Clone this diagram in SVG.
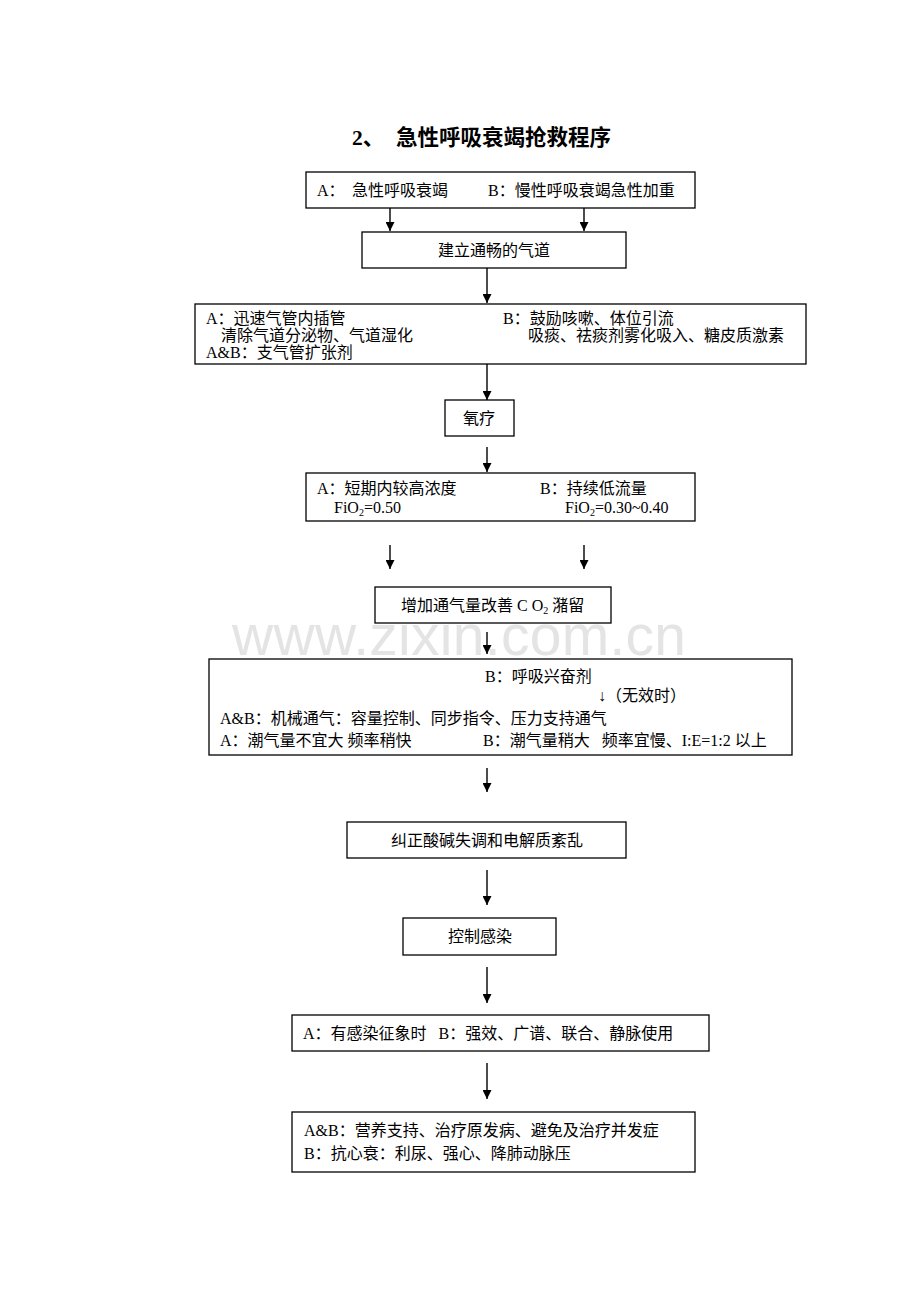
<svg xmlns="http://www.w3.org/2000/svg" width="920" height="1302" viewBox="0 0 920 1302" xml:space="preserve">
<style>
.box{fill:#fff;stroke:#000;stroke-width:1.3}
.t{font-family:"Liberation Serif","Noto Sans CJK SC",serif;font-size:16px;fill:#000;white-space:pre}
.title{font-family:"Liberation Serif","Noto Sans CJK SC",serif;font-size:21.5px;font-weight:bold;fill:#000}
.wm{font-family:"Liberation Sans",Arial,sans-serif;font-size:57px;fill:#e4e4e4}
.c{text-anchor:middle}
.ln{stroke:#000;stroke-width:1.4;fill:none}
</style>
<defs>
<marker id="ah" viewBox="0 0 10 10" refX="10" refY="5" markerWidth="9" markerHeight="9" markerUnits="userSpaceOnUse" orient="auto">
<path d="M0,0 L10,5 L0,10 z" fill="#000"/>
</marker>
</defs>
<rect width="920" height="1302" fill="#fff"/>
<text class="wm" x="232" y="655" textLength="454">www.zixin.com.cn</text>
<g id="title">
<text class="title" x="352" y="145">2、</text>
<text class="title" x="396" y="145">急性呼吸衰竭抢救程序</text>
</g>

<g id="connectors">
<line class="ln" x1="390" y1="208" x2="390" y2="231" marker-end="url(#ah)"/>
<line class="ln" x1="584" y1="208" x2="584" y2="231" marker-end="url(#ah)"/>
<line class="ln" x1="487" y1="268" x2="487" y2="303" marker-end="url(#ah)"/>
<line class="ln" x1="487" y1="364" x2="487" y2="400" marker-end="url(#ah)"/>
<line class="ln" x1="487" y1="447" x2="487" y2="472" marker-end="url(#ah)"/>
<line class="ln" x1="390" y1="545" x2="390" y2="569" marker-end="url(#ah)"/>
<line class="ln" x1="584" y1="545" x2="584" y2="569" marker-end="url(#ah)"/>
<line class="ln" x1="487" y1="632" x2="487" y2="654" marker-end="url(#ah)"/>
<line class="ln" x1="487" y1="768" x2="487" y2="792" marker-end="url(#ah)"/>
<line class="ln" x1="487" y1="870" x2="487" y2="905" marker-end="url(#ah)"/>
<line class="ln" x1="487" y1="967" x2="487" y2="1003" marker-end="url(#ah)"/>
<line class="ln" x1="487" y1="1063" x2="487" y2="1099" marker-end="url(#ah)"/>
</g>

<g id="n1">
<rect class="box" x="306" y="172" width="389" height="36"/>
<text class="t" x="317" y="196">A：</text>
<text class="t" x="352" y="196">急性呼吸衰竭</text>
<text class="t" x="488" y="196">B：慢性呼吸衰竭急性加重</text>
</g>
<g id="n2">
<rect class="box" x="362" y="232" width="264" height="36"/>
<text class="t c" x="494" y="256">建立通畅的气道</text>
</g>
<g id="n3">
<rect class="box" x="195" y="304" width="611" height="60"/>
<text class="t" x="206" y="324">A：迅速气管内插管</text>
<text class="t" x="221" y="341">清除气道分泌物、气道湿化</text>
<text class="t" x="206" y="358">A&amp;B：支气管扩张剂</text>
<text class="t" x="503" y="324">B：鼓励咳嗽、体位引流</text>
<text class="t" x="528" y="341">吸痰、祛痰剂雾化吸入、糖皮质激素</text>
</g>
<g id="n4">
<rect class="box" x="445" y="400" width="69" height="36"/>
<text class="t c" x="479" y="424">氧疗</text>
</g>
<g id="n5">
<rect class="box" x="306" y="473" width="389" height="48"/>
<text class="t" x="317" y="494">A：短期内较高浓度</text>
<text class="t" x="334" y="513">FiO<tspan font-size="10" dy="3">2</tspan><tspan dy="-3">=0.50</tspan></text>
<text class="t" x="540" y="494">B：持续低流量</text>
<text class="t" x="565" y="513">FiO<tspan font-size="10" dy="3">2</tspan><tspan dy="-3">=0.30~0.40</tspan></text>
</g>
<g id="n6">
<rect class="box" x="375" y="587" width="236" height="36"/>
<text class="t" x="401" y="611">增加通气量改善 C O<tspan font-size="10" dy="3">2</tspan><tspan dy="-3"> 潴留</tspan></text>
</g>
<g id="n7">
<rect class="box" x="209" y="659" width="583" height="96"/>
<text class="t" x="485" y="682">B：呼吸兴奋剂</text>
<text class="t" x="598" y="701">↓（无效时）</text>
<text class="t" x="220" y="724">A&amp;B：机械通气：容量控制、同步指令、压力支持通气</text>
<text class="t" x="220" y="746">A：潮气量不宜大 频率稍快</text>
<text class="t" x="483" y="746">B：潮气量稍大   频率宜慢、I:E=1:2 以上</text>
</g>
<g id="n8">
<rect class="box" x="347" y="822" width="279" height="36"/>
<text class="t c" x="487" y="846">纠正酸碱失调和电解质紊乱</text>
</g>
<g id="n9">
<rect class="box" x="403" y="918" width="153" height="37"/>
<text class="t c" x="480" y="942">控制感染</text>
</g>
<g id="n10">
<rect class="box" x="292" y="1015" width="417" height="36"/>
<text class="t" x="303" y="1039">A：有感染征象时   B：强效、广谱、联合、静脉使用</text>
</g>
<g id="n11">
<rect class="box" x="292" y="1112" width="403" height="60"/>
<text class="t" x="304" y="1136">A&amp;B：营养支持、治疗原发病、避免及治疗并发症</text>
<text class="t" x="304" y="1159">B：抗心衰：利尿、强心、降肺动脉压</text>
</g>
</svg>
